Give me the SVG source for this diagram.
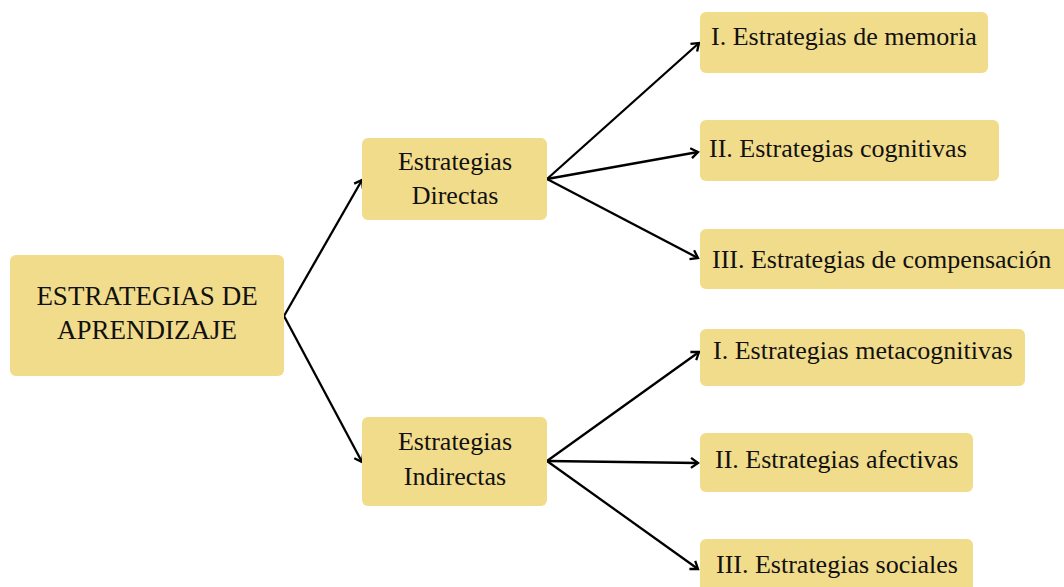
<svg xmlns="http://www.w3.org/2000/svg" width="1064" height="587" viewBox="0 0 1064 587">
<style>
.box{fill:#F1DC8B;}
.t{font-family:"Liberation Serif","Times New Roman",serif;font-size:26px;fill:#111;}
.big{font-size:27px;}
.c{text-anchor:middle;}
.ln{stroke:#000;stroke-width:2.3;fill:none;marker-end:url(#ah);}
</style>
<defs>
<marker id="ah" markerUnits="userSpaceOnUse" markerWidth="14" markerHeight="14" refX="10" refY="6" orient="auto" viewBox="0 0 14 12">
<path d="M3,1 L10,6 L3,11" fill="none" stroke="#000" stroke-width="2.3" stroke-linejoin="miter"/>
</marker>
</defs>
<rect width="1064" height="587" fill="#fff"/>
<g id="connectors">
<line class="ln" x1="284" y1="316" x2="362" y2="180"/>
<line class="ln" x1="284" y1="316" x2="362" y2="462"/>
<line class="ln" x1="547" y1="179" x2="699" y2="43"/>
<line class="ln" x1="547" y1="179" x2="698" y2="152"/>
<line class="ln" x1="547" y1="179" x2="698" y2="258"/>
<line class="ln" x1="547" y1="461" x2="699" y2="352"/>
<line class="ln" x1="547" y1="461" x2="698" y2="463"/>
<line class="ln" x1="547" y1="461" x2="698" y2="569"/>
</g>
<g id="root">
<rect class="box" x="10" y="255" width="274" height="121" rx="6"/>
<text class="t big c" x="147" y="305">ESTRATEGIAS DE</text>
<text class="t big c" x="147" y="339">APRENDIZAJE</text>
</g>
<g id="directas">
<rect class="box" x="362" y="138" width="185" height="82" rx="6"/>
<text class="t c" x="455" y="170">Estrategias</text>
<text class="t c" x="455" y="204">Directas</text>
</g>
<g id="indirectas">
<rect class="box" x="362" y="417" width="185" height="89" rx="6"/>
<text class="t c" x="455" y="450">Estrategias</text>
<text class="t c" x="455" y="485">Indirectas</text>
</g>
<g id="memoria">
<rect class="box" x="700" y="12" width="288" height="61" rx="6"/>
<text class="t" x="711" y="45">I. Estrategias de memoria</text>
</g>
<g id="cognitivas">
<rect class="box" x="700" y="120" width="299" height="61" rx="6"/>
<text class="t" x="709" y="157">II. Estrategias cognitivas</text>
</g>
<g id="compensacion">
<rect class="box" x="700" y="229" width="370" height="60" rx="6"/>
<text class="t" x="712" y="268">III. Estrategias de compensación</text>
</g>
<g id="metacognitivas">
<rect class="box" x="700" y="329" width="325" height="57" rx="6"/>
<text class="t" x="713" y="359">I. Estrategias metacognitivas</text>
</g>
<g id="afectivas">
<rect class="box" x="700" y="433" width="273" height="59" rx="6"/>
<text class="t" x="715" y="468">II. Estrategias afectivas</text>
</g>
<g id="sociales">
<rect class="box" x="700" y="539" width="273" height="60" rx="6"/>
<text class="t" x="716" y="573">III. Estrategias sociales</text>
</g>
</svg>
